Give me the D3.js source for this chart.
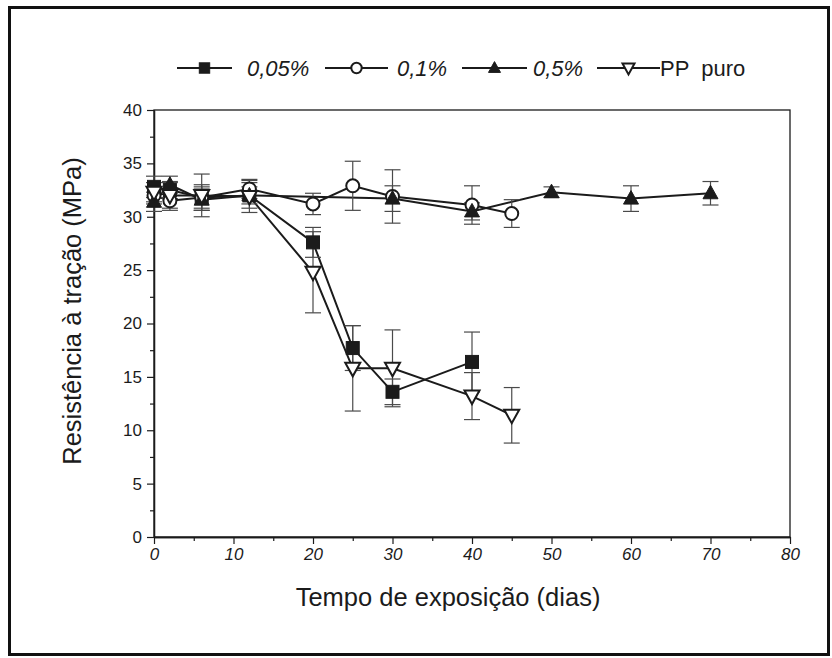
<!DOCTYPE html>
<html>
<head>
<meta charset="utf-8">
<script src="https://cdn.jsdelivr.net/npm/d3@7"></script>
<style>
  html, body { margin: 0; padding: 0; background: #fff; }
  svg { display: block; font-family: "Liberation Sans", Arial, sans-serif; }
</style>
</head>
<body>
<svg id="chart" width="832" height="658"></svg>
<script>
// Exposure time (days) and tensile strength (MPa) per formulation
const seriesNames = ["0,05%", "0,1%", "0,5%", "PP  puro"];

const days005 = [0, 2, 6, 12, 20, 25, 30, 40];
const mpa005  = [32.8, 32.5, 31.8, 32.0, 27.6, 17.7, 13.6, 16.4];
const err005  = [1.0, 0.8, 1.2, 1.2, 1.4, 2.1, 1.2, 2.8];

const days01 = [0, 2, 6, 12, 20, 25, 30, 40, 45];
const mpa01  = [32.0, 31.5, 31.8, 32.6, 31.2, 32.9, 31.9, 31.1, 30.3];
const err01  = [0.8, 0.9, 1.0, 0.9, 1.0, 2.3, 2.5, 1.8, 1.3];

const days05 = [0, 2, 6, 12, 30, 40, 50, 60, 70];
const mpa05  = [31.4, 33.0, 31.6, 32.0, 31.7, 30.5, 32.3, 31.7, 32.2];
const err05  = [0.9, 0.8, 1.0, 0.8, 1.2, 0.8, 0.5, 1.2, 1.1];

const daysPP = [0, 2, 6, 12, 20, 25, 30, 40, 45];
const mpaPP  = [32.3, 32.0, 32.0, 31.9, 24.8, 15.8, 15.8, 13.2, 11.4];
const errPP  = [0.9, 1.2, 2.0, 1.5, 3.8, 4.0, 3.6, 2.2, 2.6];

const xTicks = [0, 10, 20, 30, 40, 50, 60, 70, 80];
const yTicks = [0, 5, 10, 15, 20, 25, 30, 35, 40];

const series = [
  { name: seriesNames[0], x: days005, y: mpa005, e: err005, marker: "square" },
  { name: seriesNames[1], x: days01,  y: mpa01,  e: err01,  marker: "circle" },
  { name: seriesNames[2], x: days05,  y: mpa05,  e: err05,  marker: "triUp" },
  { name: seriesNames[3], x: daysPP,  y: mpaPP,  e: errPP,  marker: "triDown" }
];

const svg = d3.select("#chart");
const ink = "#1b1b1b";

// outer frame of the figure
svg.append("rect")
  .attr("x", 9.5).attr("y", 7.5).attr("width", 819).attr("height", 647)
  .attr("fill", "none").attr("stroke", "#111").attr("stroke-width", 3);

const x = d3.scaleLinear().domain([0, 80]).range([154, 790]);
const y = d3.scaleLinear().domain([0, 40]).range([537, 110]);

// plot box
svg.append("rect")
  .attr("x", x(0)).attr("y", y(40))
  .attr("width", x(80) - x(0)).attr("height", y(0) - y(40))
  .attr("fill", "none").attr("stroke", ink).attr("stroke-width", 1.3);

// major and minor ticks
const xAxis = svg.append("g").attr("transform", `translate(0,${y(0)})`)
  .call(d3.axisBottom(x).tickValues(xTicks).tickSize(7).tickSizeOuter(0).tickPadding(4));
const xMinor = svg.append("g").attr("transform", `translate(0,${y(0)})`)
  .call(d3.axisBottom(x).tickValues(d3.range(5, 80, 10)).tickSize(4).tickSizeOuter(0).tickFormat(""));
const yAxis = svg.append("g").attr("transform", `translate(${x(0)},0)`)
  .call(d3.axisLeft(y).tickValues(yTicks).tickSize(7).tickSizeOuter(0).tickPadding(5));
const yMinor = svg.append("g").attr("transform", `translate(${x(0)},0)`)
  .call(d3.axisLeft(y).tickValues(d3.range(2.5, 40, 5)).tickSize(4).tickSizeOuter(0).tickFormat(""));

[xAxis, xMinor, yAxis, yMinor].forEach(g => {
  g.select(".domain").attr("stroke", ink).attr("stroke-width", 1.3);
  g.selectAll(".tick line").attr("stroke", ink).attr("stroke-width", 1.2);
});
xAxis.selectAll(".tick text")
  .attr("font-size", 17).attr("font-style", "italic").attr("fill", ink)
  .attr("font-family", "Liberation Sans, Arial, sans-serif");
yAxis.selectAll(".tick text")
  .attr("font-size", 17).attr("fill", ink)
  .attr("font-family", "Liberation Sans, Arial, sans-serif");

// axis titles
svg.append("text")
  .attr("x", 448).attr("y", 606)
  .attr("text-anchor", "middle").attr("font-size", 25.5).attr("fill", ink)
  .text("Tempo de exposição (dias)");
svg.append("text")
  .attr("transform", `translate(81,311) rotate(-90)`)
  .attr("text-anchor", "middle").attr("font-size", 25.5).attr("fill", ink)
  .text("Resistência à tração (MPa)");

// marker drawing, k scales the symbol
function drawMarker(g, kind, cx, cy, k = 1) {
  if (kind === "square") {
    g.append("rect").attr("x", cx - 6.5 * k).attr("y", cy - 6.5 * k)
      .attr("width", 13 * k).attr("height", 13 * k)
      .attr("fill", ink).attr("stroke", ink).attr("stroke-width", 1);
  } else if (kind === "circle") {
    g.append("circle").attr("cx", cx).attr("cy", cy).attr("r", 6.5 * k)
      .attr("fill", "#fff").attr("stroke", ink).attr("stroke-width", 2);
  } else if (kind === "triUp") {
    g.append("path")
      .attr("d", `M${cx},${cy - 8 * k} L${cx + 7.5 * k},${cy + 5.5 * k} L${cx - 7.5 * k},${cy + 5.5 * k} Z`)
      .attr("fill", ink).attr("stroke", ink).attr("stroke-width", 1);
  } else {
    g.append("path")
      .attr("d", `M${cx - 7.5 * k},${cy - 5.5 * k} L${cx + 7.5 * k},${cy - 5.5 * k} L${cx},${cy + 8 * k} Z`)
      .attr("fill", "#fff").attr("stroke", ink).attr("stroke-width", 2);
  }
}

const line = d3.line().x(d => x(d[0])).y(d => y(d[1]));
const plot = svg.append("g");

// connecting lines
series.forEach(s => {
  const pts = s.x.map((d, i) => [d, s.y[i]]);
  plot.append("path").attr("d", line(pts))
    .attr("fill", "none").attr("stroke", ink).attr("stroke-width", 2);
});

// error bars
series.forEach(s => {
  s.x.forEach((d, i) => {
    const cx = x(d), y1 = y(s.y[i] + s.e[i]), y2 = y(s.y[i] - s.e[i]);
    const g = plot.append("g").attr("stroke", "#4a4a4a").attr("stroke-width", 1.2);
    g.append("line").attr("x1", cx).attr("x2", cx).attr("y1", y1).attr("y2", y2);
    g.append("line").attr("x1", cx - 8).attr("x2", cx + 8).attr("y1", y1).attr("y2", y1);
    g.append("line").attr("x1", cx - 8).attr("x2", cx + 8).attr("y1", y2).attr("y2", y2);
  });
});

// markers
series.forEach(s => {
  s.x.forEach((d, i) => drawMarker(plot, s.marker, x(d), y(s.y[i])));
});

// legend
const legendItems = [
  { x1: 177, x2: 232, text: 247 },
  { x1: 325, x2: 388, text: 397 },
  { x1: 462, x2: 527, text: 533 },
  { x1: 597, x2: 660, text: 660 }
];
const ly = 68;
const legend = svg.append("g");
series.forEach((s, i) => {
  const L = legendItems[i];
  legend.append("line").attr("x1", L.x1).attr("x2", L.x2).attr("y1", ly).attr("y2", ly)
    .attr("stroke", ink).attr("stroke-width", 2);
  drawMarker(legend, s.marker, (L.x1 + L.x2) / 2, ly, 0.8);
  legend.append("text").attr("x", L.text).attr("y", ly + 8)
    .attr("font-size", 22).attr("fill", ink)
    .attr("font-style", i < 3 ? "italic" : "normal")
    .attr("xml:space", "preserve").style("white-space", "pre")
    .text(s.name);
});
</script>
</body>
</html>
